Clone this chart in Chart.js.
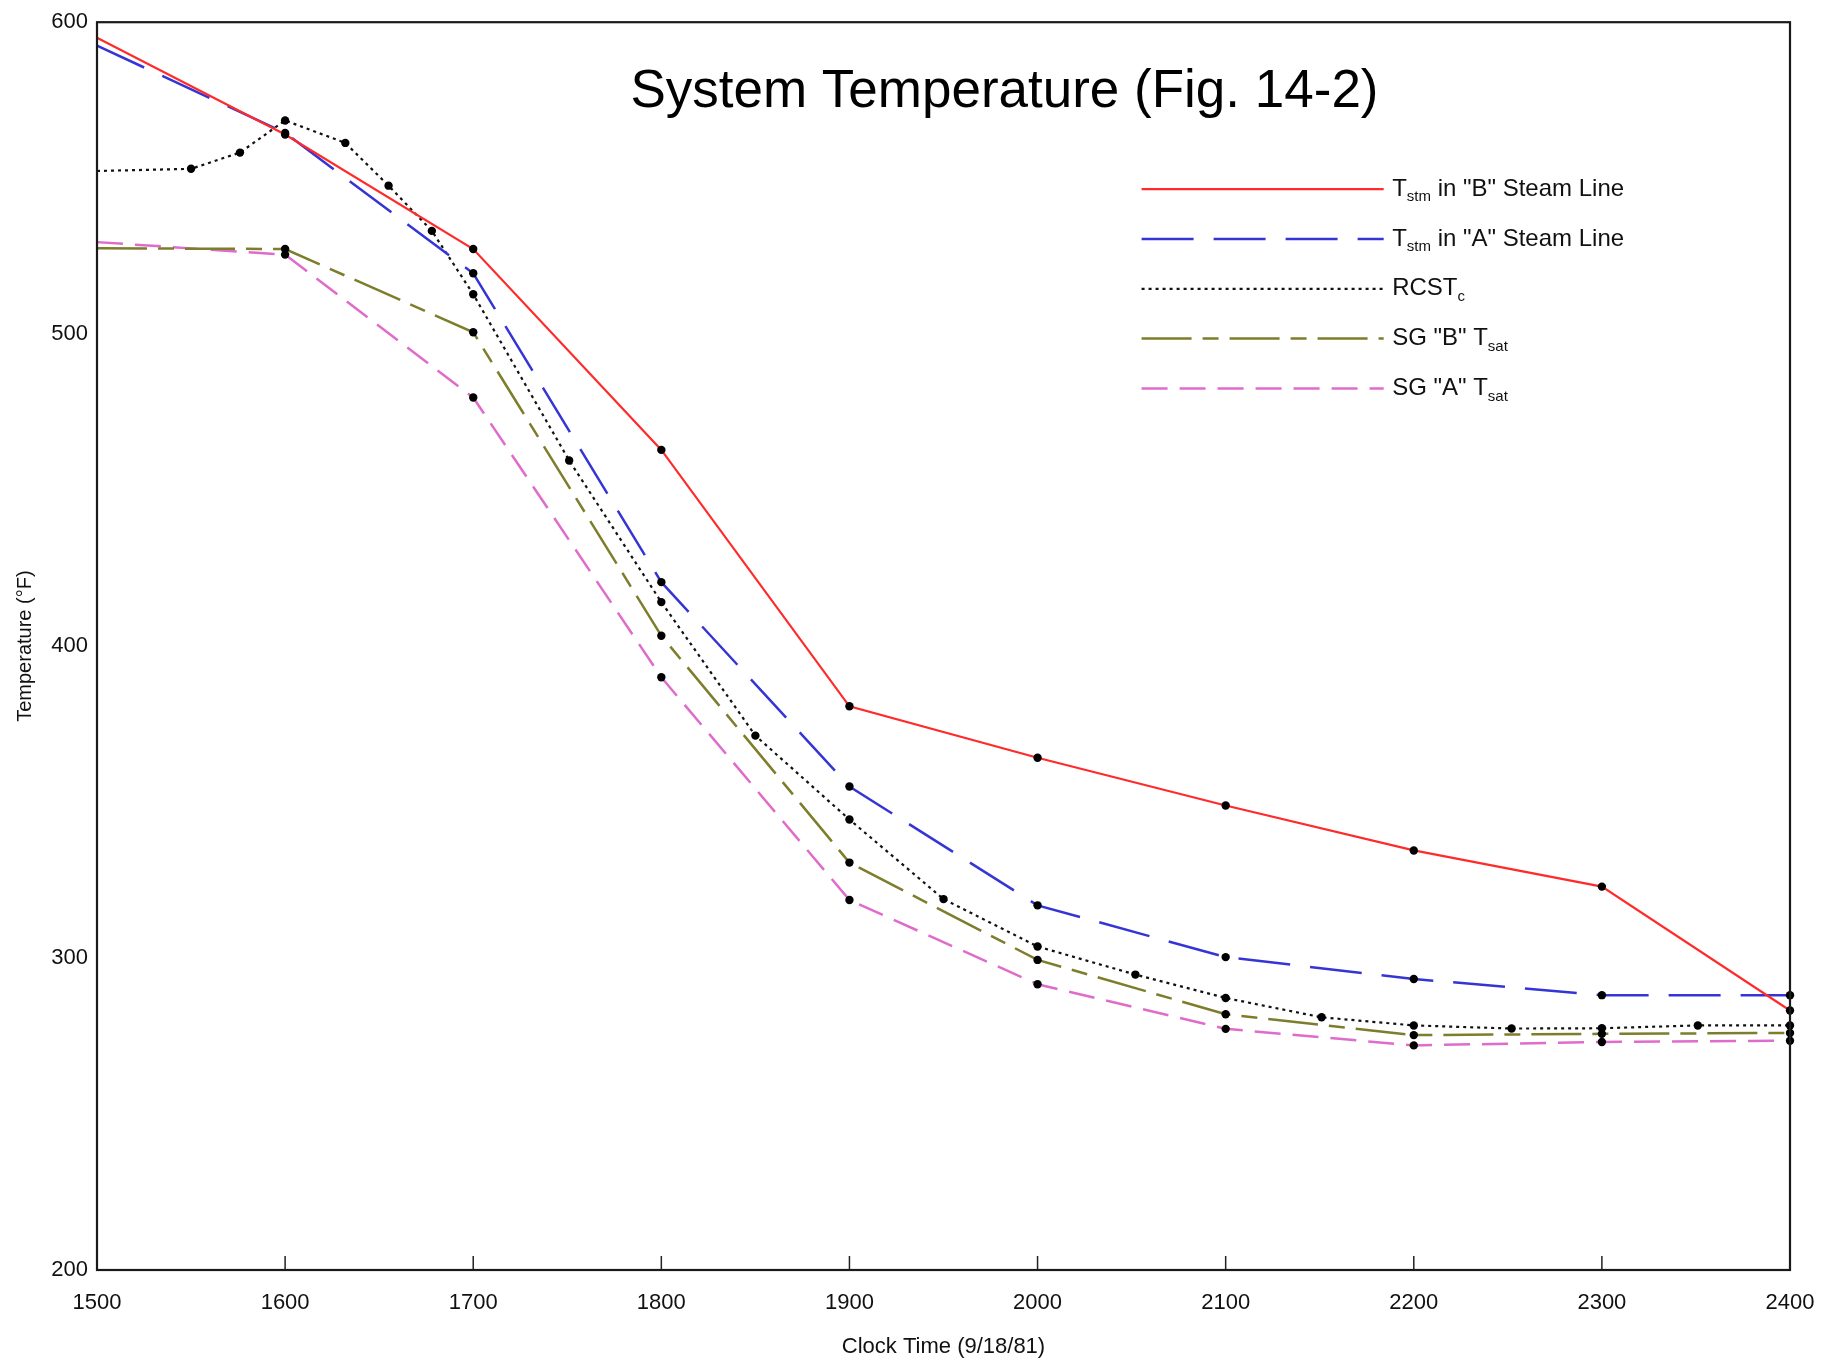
<!DOCTYPE html>
<html>
<head>
<meta charset="utf-8">
<script src="https://cdn.jsdelivr.net/npm/chart.js@4/dist/chart.umd.min.js"></script>
<style>
  body { margin: 0; background: #fff; }
  #wrap { width: 1837px; height: 1364px; }
</style>
</head>
<body>
<div id="wrap"><canvas id="tempChart" width="1837" height="1364"></canvas></div>
<script>
// clock times (hours on the 9/18/81 trace)
const hourTimes = [1500, 1600, 1700, 1800, 1900, 2000, 2100, 2200, 2300, 2400]
const rcsTimes = [1500, 1550, 1576, 1600, 1632, 1655, 1678, 1700, 1751, 1800, 1850,
                  1900, 1950, 2000, 2052, 2100, 2151, 2200, 2252, 2300, 2351, 2400]

// temperatures, deg F
const steamB = [595, 564, 527.3, 462.9, 380.7, 364.2, 348.9, 334.5, 322.9, 283.2]
const steamA = [592.5, 564.5, 519.5, 420.5, 355, 316.9, 300.3, 293.3, 288.1, 288.1]
const rcsTemp = [552.3, 553, 558.2, 568.5, 561.3, 547.6, 533.1, 512.8, 459.5, 414.1, 371.3,
                 344.4, 318.9, 303.7, 294.7, 287.2, 281, 278.4, 277.4, 277.5, 278.4, 278.4]
const sgBsat = [527.5, 527.3, 500.6, 403.3, 330.6, 299.4, 282, 275.3, 275.7, 276]
const sgAsat = [529.5, 525.5, 479.7, 390, 318.6, 291.6, 277.3, 272, 273.1, 273.5]

const xTicks = [1500, 1600, 1700, 1800, 1900, 2000, 2100, 2200, 2300, 2400]
const yTicks = [200, 300, 400, 500, 600]

// legend text pieces: main + subscript + tail
const legendMain = ['T', 'T', 'RCST', 'SG "B" T', 'SG "A" T']
const legendSub = ['stm', 'stm', 'c', 'sat', 'sat']
const legendTail = [' in "B" Steam Line', ' in "A" Steam Line', '', '', '']

const FONT = 'Arial, "Liberation Sans", sans-serif'

function toPoints(xs, ys) {
    let pts = []
    for (let i = 0; i < xs.length; i++) {
        pts.push({ x: xs[i], y: ys[i] })
    }
    return pts
}

// no marker on the starting value at 1500
function markerSizes(n) {
    let r = []
    for (let i = 0; i < n; i++) r.push(i == 0 ? 0 : 4.2)
    return r
}

function makeSet(label, xs, ys, color, dash, width) {
    return {
        label: label,
        data: toPoints(xs, ys),
        borderColor: color,
        borderWidth: width,
        borderDash: dash,
        pointRadius: markerSizes(xs.length),
        pointBackgroundColor: '#000',
        pointBorderColor: '#000',
        pointBorderWidth: 0,
        tension: 0,
        fill: false,
        clip: false
    }
}

const datasets = [
    makeSet('Tstm B', hourTimes, steamB, '#ff2b2b', [], 2.2),
    makeSet('Tstm A', hourTimes, steamA, '#3535d6', [52, 20], 2.5),
    makeSet('RCSTc', rcsTimes, rcsTemp, '#111111', [3, 4], 2.2),
    makeSet('SG B Tsat', hourTimes, sgBsat, '#7d7d2c', [50, 11, 16, 11], 2.5),
    makeSet('SG A Tsat', hourTimes, sgAsat, '#df6ccb', [26, 12], 2.5)
]

const framePlugin = {
    id: 'frame',
    afterDatasetsDraw(chart) {
        const ctx = chart.ctx
        const a = chart.chartArea
        const xs = chart.scales.x
        ctx.save()
        // inner tick marks on the time axis
        ctx.strokeStyle = '#222'
        ctx.lineWidth = 1.5
        for (let i = 1; i < xTicks.length - 1; i++) {
            let px = xs.getPixelForValue(xTicks[i])
            ctx.beginPath()
            ctx.moveTo(px, a.bottom)
            ctx.lineTo(px, a.bottom - 14)
            ctx.stroke()
        }
        // box round the plot
        ctx.strokeStyle = '#1a1a1a'
        ctx.lineWidth = 2.2
        ctx.strokeRect(a.left, a.top, a.right - a.left, a.bottom - a.top)
        ctx.restore()
    },
    afterDraw(chart) {
        const ctx = chart.ctx
        const a = chart.chartArea
        const w = a.right - a.left
        ctx.save()
        // title sits inside the plot
        ctx.fillStyle = '#000'
        ctx.font = '53px ' + FONT
        ctx.textAlign = 'center'
        ctx.textBaseline = 'middle'
        ctx.fillText('System Temperature (Fig. 14-2)', a.left + w * 0.536, a.top + 70)

        // legend, top right inside the plot
        const x0 = a.left + w * 0.617
        const x1 = a.left + w * 0.760
        const tx = a.left + w * 0.765
        const rowTop = a.top + 167
        const rowGap = 49.8
        for (let i = 0; i < datasets.length; i++) {
            let ds = datasets[i]
            let y = rowTop + i * rowGap
            ctx.strokeStyle = ds.borderColor
            ctx.lineWidth = ds.borderWidth
            ctx.setLineDash(ds.borderDash)
            ctx.beginPath()
            ctx.moveTo(x0, y)
            ctx.lineTo(x1, y)
            ctx.stroke()
            ctx.setLineDash([])

            ctx.fillStyle = '#111'
            ctx.textAlign = 'left'
            ctx.textBaseline = 'middle'
            ctx.font = '24px ' + FONT
            let cx = tx
            ctx.fillText(legendMain[i], cx, y)
            cx += ctx.measureText(legendMain[i]).width
            ctx.font = '15px ' + FONT
            ctx.fillText(legendSub[i], cx, y + 8)
            cx += ctx.measureText(legendSub[i]).width
            ctx.font = '24px ' + FONT
            ctx.fillText(legendTail[i], cx, y)
        }
        ctx.restore()
    }
}

new Chart(document.getElementById('tempChart').getContext('2d'), {
    type: 'line',
    data: { datasets: datasets },
    options: {
        responsive: false,
        animation: false,
        devicePixelRatio: 1,
        layout: { padding: { top: 20, right: 47, left: 0, bottom: 0 } },
        plugins: {
            legend: { display: false },
            tooltip: { enabled: false }
        },
        scales: {
            x: {
                type: 'linear',
                min: 1500,
                max: 2400,
                afterBuildTicks: (s) => { s.ticks = xTicks.map(v => ({ value: v })) },
                afterFit: (s) => { s.height = 94 },
                grid: { display: false, drawTicks: false },
                border: { display: false },
                ticks: {
                    padding: 20,
                    color: '#111',
                    font: { family: FONT, size: 22 },
                    callback: (v) => String(v)
                },
                title: {
                    display: true,
                    text: 'Clock Time (9/18/81)',
                    color: '#111',
                    font: { family: FONT, size: 22 },
                    padding: { top: 4, bottom: 4 }
                }
            },
            y: {
                type: 'linear',
                min: 200,
                max: 600,
                afterBuildTicks: (s) => { s.ticks = yTicks.map(v => ({ value: v })) },
                afterFit: (s) => { s.width = 97 },
                grid: { display: false, drawTicks: false },
                border: { display: false },
                ticks: {
                    padding: 9,
                    color: '#111',
                    font: { family: FONT, size: 22 },
                    callback: (v) => String(v)
                },
                title: {
                    display: true,
                    text: 'Temperature (°F)',
                    color: '#111',
                    font: { family: FONT, size: 20 },
                    padding: { top: 13, bottom: 0 }
                }
            }
        }
    },
    plugins: [framePlugin]
})
</script>
</body>
</html>
